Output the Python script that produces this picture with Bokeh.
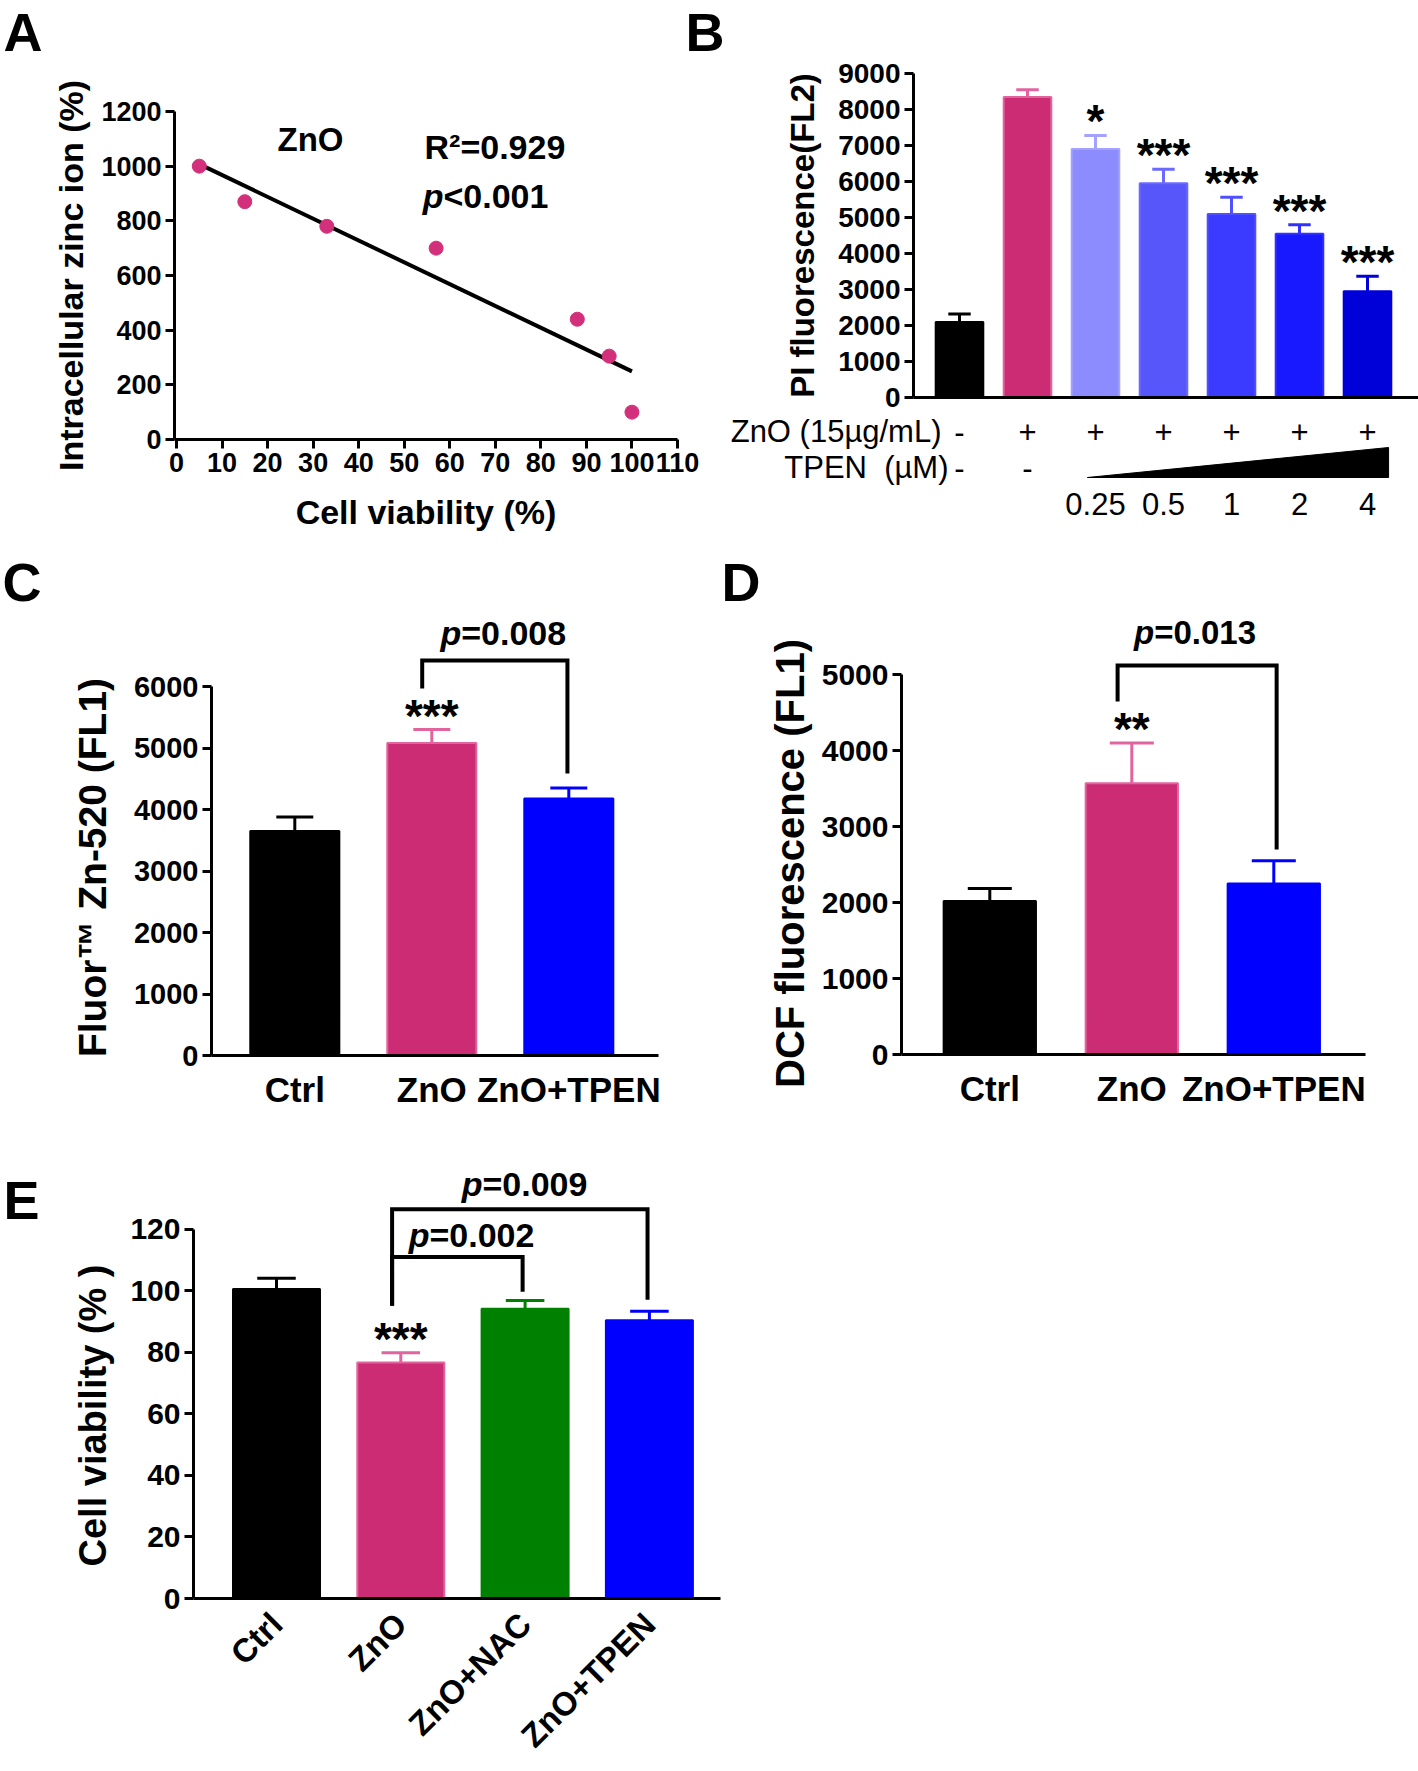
import math
import numpy as np
from bokeh.plotting import figure
from bokeh.models import Range1d, Label, FixedTicker, ColumnDataSource
from bokeh.layouts import row, column
from bokeh.embed import file_html
from bokeh.resources import INLINE
from bokeh.core.properties import value

FONT = "Liberation Sans"

# ---------------- data ----------------
# Panel A: scatter + regression
a_viability = [5, 15, 33, 57, 88, 95, 100]
a_zinc = [1000, 870, 780, 700, 440, 305, 100]
a_xticks = list(range(0, 111, 10))
a_yticks = list(range(0, 1201, 200))

# Panel B
b_values = [2100, 8350, 6900, 5950, 5100, 4550, 2950]
b_errors = [220, 200, 380, 390, 460, 250, 420]
b_stars = ["", "", "*", "***", "***", "***", "***"]
b_zno = ["-", "+", "+", "+", "+", "+", "+"]
b_tpen = ["-", "-", "", "", "", "", ""]
b_doses = ["", "", "0.25", "0.5", "1", "2", "4"]
b_yticks = list(range(0, 9001, 1000))

# Panel C
c_groups = ["Ctrl", "ZnO", "ZnO+TPEN"]
c_values = [3650, 5080, 4180]
c_errors = [230, 220, 170]
c_yticks = list(range(0, 6001, 1000))

# Panel D
d_groups = ["Ctrl", "ZnO", "ZnO+TPEN"]
d_values = [2020, 3570, 2250]
d_errors = [165, 530, 300]
d_yticks = list(range(0, 5001, 1000))

# Panel E
e_groups = ["Ctrl", "ZnO", "ZnO+NAC", "ZnO+TPEN"]
e_values = [100.5, 76.7, 94.1, 90.4]
e_errors = [3.5, 3.1, 2.7, 2.9]
e_yticks = list(range(0, 121, 20))

# ---------------- colours ----------------
POINT = "#D3307C"
PINK = "#CC2C74"
PINK_EDGE = "#E2649E"
BLUE = "#0000FF"
GREEN = "#008000"
b_fill = ["#000000", PINK, "#8C8CFF", "#5656FA", "#3B3BFF", "#1919FF", "#0000D8"]
b_edge = ["#000000", PINK_EDGE, "#A3A3FF", "#6A6AFF", "#5050FF", "#3030FF", "#0000D8"]
cd_fill = ["#000000", PINK, BLUE]
cd_edge = ["#000000", PINK_EDGE, BLUE]
e_fill = ["#000000", PINK, GREEN, BLUE]
e_edge = ["#000000", PINK_EDGE, GREEN, BLUE]

LETTER = 54
STAR = 46


def no_align(p):
    try:
        p.frame_align = False
    except Exception:
        pass


def setup(ox, oy, w, h, frame, xr, yr):
    l, t, r, b = frame
    p = figure(width=w, height=h, x_range=Range1d(*xr), y_range=Range1d(*yr),
               min_border_left=l - ox, min_border_top=t - oy,
               min_border_right=ox + w - r, min_border_bottom=oy + h - b,
               toolbar_location=None, output_backend="svg")
    no_align(p)
    p.grid.visible = False
    p.outline_line_color = None
    p.background_fill_color = "white"
    p.border_fill_color = "white"

    def X(fx):
        return xr[0] + (fx - l) / (r - l) * (xr[1] - xr[0])

    def Y(fy):
        return yr[0] + (b - fy) / (b - t) * (yr[1] - yr[0])
    return p, X, Y, (yr[1] - yr[0]) / (b - t)


def plain(x0, y0, w, h, xr=None):
    """Axis-free figure whose frame fills it; y data = -page_y."""
    xr = xr if xr is not None else (x0, x0 + w)
    p = figure(width=w, height=h, x_range=Range1d(*xr), y_range=Range1d(-(y0 + h), -y0),
               min_border_left=0, min_border_right=0, min_border_top=0, min_border_bottom=0,
               x_axis_type=None, y_axis_type=None,
               toolbar_location=None, output_backend="svg")
    no_align(p)
    p.grid.visible = False
    p.outline_line_color = None
    p.background_fill_color = "white"
    p.border_fill_color = "white"
    return p


def gtext(p, x, page_y, text, size, style="bold", align="left", baseline="middle", angle=0.0):
    xs = x if isinstance(x, list) else [x]
    ys = page_y if isinstance(page_y, list) else [page_y] * len(xs)
    ts = text if isinstance(text, list) else [text]
    keep = [i for i, t in enumerate(ts) if t]
    p.text(x=[xs[i] for i in keep], y=[-ys[i] for i in keep], text=[ts[i] for i in keep],
           text_font=value(FONT), text_font_style=style,
           text_font_size=value(f"{size}px"), text_align=align, text_baseline=baseline,
           angle=angle, text_color="black")


def style_axis(ax, tick_px, label_px, standoff, label_standoff, ticks=True):
    ax.axis_line_width = 3
    ax.axis_line_color = "black"
    ax.major_tick_line_width = 3
    ax.major_tick_line_color = "black" if ticks else None
    ax.major_tick_out = 9 if ticks else 0
    ax.major_tick_in = 0
    ax.minor_tick_line_color = None
    ax.major_label_text_font = FONT
    ax.major_label_text_font_style = "bold"
    ax.major_label_text_font_size = f"{tick_px}px"
    ax.major_label_text_color = "black"
    ax.major_label_standoff = standoff
    ax.axis_label_text_font = FONT
    ax.axis_label_text_font_style = "bold"
    ax.axis_label_text_font_size = f"{label_px}px"
    ax.axis_label_text_color = "black"
    ax.axis_label_standoff = label_standoff


def add_text(p, x, y, text, size, style="bold", align="center", baseline="middle"):
    p.add_layout(Label(x=x, y=y, text=text, text_font=FONT, text_font_style=style,
                       text_font_size=f"{size}px", text_align=align,
                       text_baseline=baseline, text_color="black"))


def draw_bars(p, vals, errs, fills, edges, width, cap, upp, star_labels=None):
    xs = list(range(len(vals)))
    tops = [v + e for v, e in zip(vals, errs)]
    src = ColumnDataSource(dict(x=xs, v=vals, t=tops,
                                x0=[x - cap / 2 for x in xs], x1=[x + cap / 2 for x in xs],
                                fill=fills, edge=edges))
    p.segment(x0="x", y0="v", x1="x", y1="t", source=src, line_color="edge", line_width=3)
    p.segment(x0="x0", y0="t", x1="x1", y1="t", source=src, line_color="edge", line_width=3)
    p.vbar(x="x", top="v", bottom=0, width=width, source=src,
           fill_color="fill", line_color="edge", line_width=2)
    if star_labels is not None:
        keep = [i for i, s in enumerate(star_labels) if s]
        ssrc = ColumnDataSource(dict(x=[xs[i] for i in keep],
                                     y=[tops[i] + 14 * upp for i in keep],
                                     s=[star_labels[i] for i in keep]))
        p.text(x="x", y="y", text="s", source=ssrc, text_font=value(FONT),
               text_font_style="bold", text_font_size=value(f"{STAR}px"),
               text_align="center", text_baseline="alphabetic", text_color="black")
    return tops


def bracket(p, xl, yl, xr_, yr_, ytop):
    p.line([xl, xl, xr_, xr_], [yl, ytop, ytop, yr_], line_color="black",
           line_width=4, line_join="miter")


def pvalue(p, x, y, txt, size=34):
    add_text(p, x, y, "p", size, style="bold italic", align="right")
    add_text(p, x, y, txt, size, align="left")


def category_axis(p, groups):
    p.xaxis.ticker = FixedTicker(ticks=list(range(len(groups))))
    p.xaxis.major_label_overrides = {i: g for i, g in enumerate(groups)}


# ================= Row 1 =================
headA = plain(0, 0, 725, 62)
gtext(headA, 3, 31, "A", LETTER)
gtext(headA, 685, 31, "B", LETTER)

# ---- Panel A ----
pA, AX, AY, _ = setup(0, 62, 725, 478, (174, 111, 677, 439), (-0.44, 110), (0, 1200))
pA.xaxis.ticker = FixedTicker(ticks=a_xticks)
pA.yaxis.ticker = FixedTicker(ticks=a_yticks)
pA.xaxis.axis_label = "Cell viability (%)"
pA.yaxis.axis_label = "Intracellular zinc ion (%)"
style_axis(pA.xaxis[0], 27, 34, 4, 18)
style_axis(pA.yaxis[0], 27, 34, 4, 8)
slope, intercept = np.polyfit(a_viability, a_zinc, 1)
fit_x = [min(a_viability), max(a_viability)]
pA.line(fit_x, [slope * v + intercept for v in fit_x], line_color="black", line_width=4)
pA.scatter(a_viability, a_zinc, size=14, fill_color=POINT, line_color=POINT)
add_text(pA, AX(310), AY(139), "ZnO", 33)
add_text(pA, AX(424), AY(146), "R²=0.929", 34, align="left")
pvalue(pA, AX(443), AY(195), "<0.001")

# ---- Panel B (bars) ----
B_C0, B_DX = 959, 68
pB, BX, BY, B_UPP = setup(725, 0, 693, 413, (913, 73, 1418, 397),
                          ((913 - B_C0) / B_DX, (1418 - B_C0) / B_DX), (0, 9000))
pB.yaxis.ticker = FixedTicker(ticks=b_yticks)
pB.yaxis.axis_label = "PI fluorescence(FL2)"
style_axis(pB.yaxis[0], 28, 33, 4, 14)
style_axis(pB.xaxis[0], 10, 10, 0, 0, ticks=False)
pB.xaxis.ticker = FixedTicker(ticks=[])
draw_bars(pB, b_values, b_errors, b_fill, b_edge, 0.7, 0.33, B_UPP, star_labels=b_stars)

# ---- Panel B (treatment rows) ----
pBr = plain(725, 413, 693, 127, xr=((725 - B_C0) / B_DX, (1418 - B_C0) / B_DX))
bx = list(range(len(b_values)))
for labels, fy in ((b_zno, 431), (b_tpen, 467), (b_doses, 503)):
    gtext(pBr, bx, fy, labels, 31, style="normal", align="center")
gtext(pBr, (941 - B_C0) / B_DX, 431, "ZnO (15µg/mL)", 31, style="normal", align="right")
gtext(pBr, (948 - B_C0) / B_DX, 467, "TPEN\u00a0\u00a0(µM)", 31, style="normal", align="right")
tri_left, tri_right = 2 - 0.12, len(b_values) - 1 + 0.31
pBr.patch([tri_left, tri_right, tri_right], [-477, -477, -447],
          fill_color="black", line_color="black")

# ================= Row 2 =================
head2 = plain(0, 540, 1418, 72)
gtext(head2, 2, 581, "C", LETTER)
gtext(head2, 721, 581, "D", LETTER)

# ---- Panel C ----
labC = plain(0, 612, 125, 516)
gtext(labC, 92, 867, "Fluor™ Zn-520 (FL1)", 39, align="center", angle=math.pi / 2)
C_C0, C_DX = 294.3, 137
pC, CX, CY, C_UPP = setup(125, 612, 575, 516, (211, 612, 658, 1055),
                          ((211 - C_C0) / C_DX, (658 - C_C0) / C_DX),
                          (0, (1055 - 612) * 6000 / (1055 - 686)))
category_axis(pC, c_groups)
pC.yaxis.ticker = FixedTicker(ticks=c_yticks)
pC.yaxis.bounds = (0, 6000)
style_axis(pC.xaxis[0], 35, 33, 14, 0, ticks=False)
style_axis(pC.yaxis[0], 29, 33, 4, 10)
draw_bars(pC, c_values, c_errors, cd_fill, cd_edge, 0.65, 0.27, C_UPP,
          star_labels=["", "***", ""])
bracket(pC, 1 - 0.07, CY(688), 1.99, CY(773), CY(660))
pvalue(pC, CX(460.7), CY(632), "=0.008")

# ---- Panel D ----
labD = plain(700, 612, 118, 516)
gtext(labD, 789, 863, "DCF fluorescence (FL1)", 40, align="center", angle=math.pi / 2)
D_C0, D_DX = 989.3, 142
pD, DX, DY, D_UPP = setup(818, 612, 600, 516, (901, 612, 1365, 1054),
                          ((901 - D_C0) / D_DX, (1365 - D_C0) / D_DX),
                          (0, (1054 - 612) * 5000 / (1054 - 674)))
category_axis(pD, d_groups)
pD.yaxis.ticker = FixedTicker(ticks=d_yticks)
pD.yaxis.bounds = (0, 5000)
style_axis(pD.xaxis[0], 35, 33, 14, 0, ticks=False)
style_axis(pD.yaxis[0], 30, 33, 4, 10)
draw_bars(pD, d_values, d_errors, cd_fill, cd_edge, 0.65, 0.31, D_UPP,
          star_labels=["", "**", ""])
bracket(pD, 1 - 0.1, DY(701), 2.02, DY(849), DY(665))
pvalue(pD, DX(1153.7), DY(632), "=0.013", 33)

# ================= Row 3 =================
labE = plain(0, 1128, 118, 642)
gtext(labE, 3, 1199, "E", LETTER)
gtext(labE, 92, 1415, "Cell viability (% )", 38, align="center", angle=math.pi / 2)
E_C0, E_DX = 276, 124.3
pE, EX, EY, E_UPP = setup(118, 1128, 612, 642, (193, 1135, 720, 1600),
                          ((193 - E_C0) / E_DX, (720 - E_C0) / E_DX),
                          (0, (1600 - 1135) * 120 / (1600 - 1229)))
category_axis(pE, e_groups)
pE.yaxis.ticker = FixedTicker(ticks=e_yticks)
pE.yaxis.bounds = (0, 120)
style_axis(pE.xaxis[0], 33, 33, 20, 0, ticks=False)
style_axis(pE.yaxis[0], 30, 33, 4, 10)
pE.xaxis.major_label_orientation = math.pi / 4
draw_bars(pE, e_values, e_errors, e_fill, e_edge, 0.70, 0.31, E_UPP,
          star_labels=["", "***", "", ""])
bracket(pE, 1 - 0.07, EY(1306), 1.98, EY(1292), EY(1257))
bracket(pE, 1 - 0.07, EY(1306), 2.985, EY(1300), EY(1209))
pvalue(pE, EX(429), EY(1235), "=0.002")
pvalue(pE, EX(482), EY(1184), "=0.009")

layout = column(
    row(column(headA, pA), column(pB, pBr)),
    head2,
    row(labC, pC, labD, pD),
    row(labE, pE),
)
open("out.html", "w").write(file_html(layout, INLINE, "Figure"))
